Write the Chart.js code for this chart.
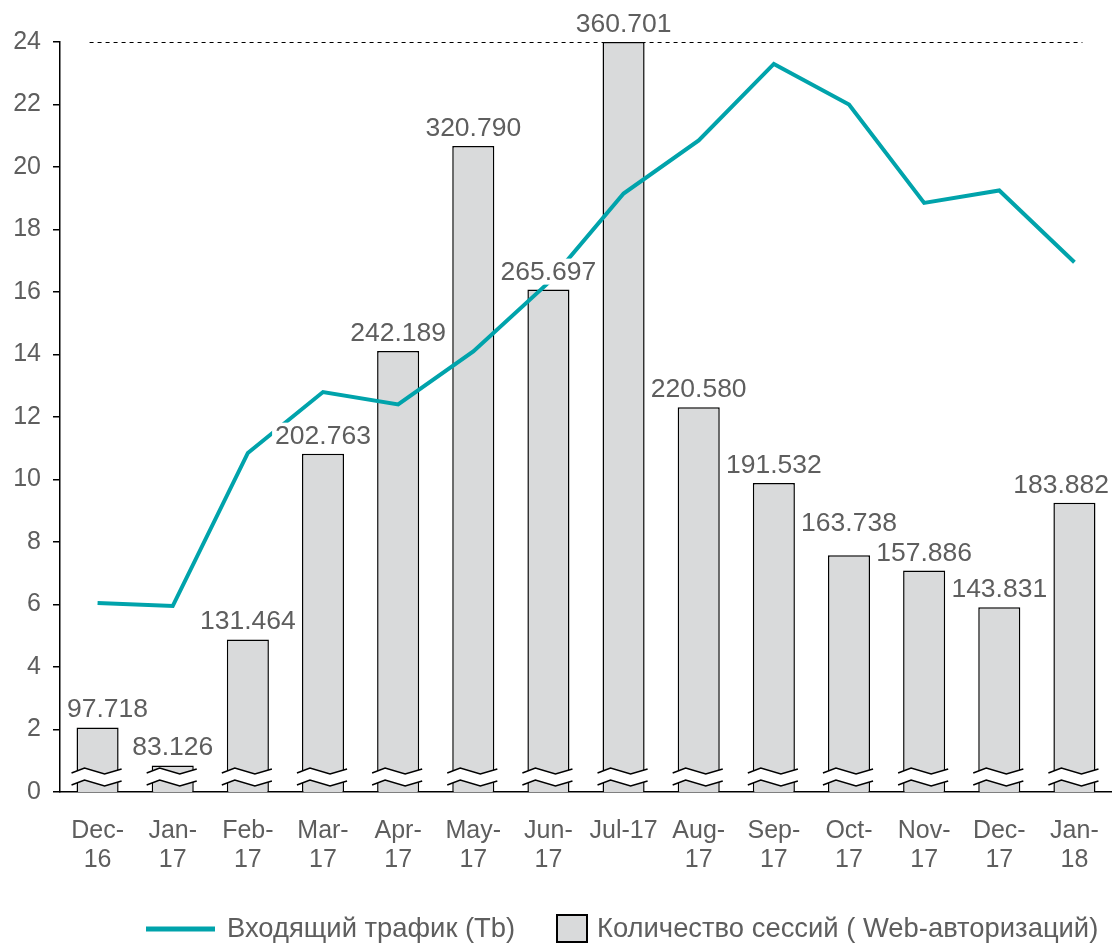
<!DOCTYPE html>
<html>
<head>
<meta charset="utf-8">
<script src="https://cdn.jsdelivr.net/npm/chart.js@4/dist/chart.umd.min.js"></script>
<style>
  html, body { margin: 0; padding: 0; background: #fff; }
  #wrap { width: 1112px; height: 944px; position: relative; }
</style>
</head>
<body>
<div id="wrap"><canvas id="c"></canvas></div>
<script>
const months = [['Dec-','16'],['Jan-','17'],['Feb-','17'],['Mar-','17'],['Apr-','17'],['May-','17'],['Jun-','17'],
  'Jul-17',['Aug-','17'],['Sep-','17'],['Oct-','17'],['Nov-','17'],['Dec-','17'],['Jan-','18']];
const traffic = [6.05, 5.95, 10.85, 12.8, 12.4, 14.1, 16.3, 19.15, 20.85, 23.3, 22.0, 18.85, 19.25, 16.95];
const sessions = [97.718, 83.126, 131.464, 202.763, 242.189, 320.790, 265.697, 360.701, 220.580, 191.532, 163.738, 157.886, 143.831, 183.882];
const yTicks = [0, 2, 4, 6, 8, 10, 12, 14, 16, 18, 20, 22, 24];
const sessionsAxisMin = 72.95;
const trafficLabel = 'Входящий трафик (Tb)';
const sessionsLabel = 'Количество сессий ( Web-авторизаций)';

const FONT = "'Liberation Sans', Arial, sans-serif";
const TEXT = '#5e5e5e';
const TEAL = '#00a3ab';
const BAR = '#d9dadb';

// dashed line at the top value
const topLine = {
  id: 'topLine',
  beforeDatasetsDraw(chart) {
    const { ctx, scales } = chart;
    const y = scales.y.getPixelForValue(24);
    const x0 = scales.x.getPixelForValue(0) - 8;
    const x1 = scales.x.getPixelForValue(months.length - 1) + 8;
    ctx.save();
    ctx.strokeStyle = '#000';
    ctx.lineWidth = 1;
    ctx.setLineDash([4, 4]);
    ctx.beginPath();
    ctx.moveTo(x0, y + 0.5);
    ctx.lineTo(x1, y + 0.5);
    ctx.stroke();
    ctx.restore();
  }
};

// axis-break marks and value labels on the bars
const barExtras = {
  id: 'barExtras',
  afterDatasetsDraw(chart) {
    const { ctx, chartArea } = chart;
    const meta = chart.getDatasetMeta(1);
    const base = chartArea.bottom;
    ctx.save();
    meta.data.forEach((bar) => {
      const l = bar.x - bar.width / 2, r = bar.x + bar.width / 2;
      const up = [[l - 5, base - 19], [l + 8, base - 24], [r - 14, base - 18], [r + 3, base - 23]];
      const lo = up.map(p => [p[0], p[1] + 12]);
      ctx.beginPath();
      up.forEach((p, i) => i ? ctx.lineTo(p[0], p[1]) : ctx.moveTo(p[0], p[1]));
      for (let i = lo.length - 1; i >= 0; i--) ctx.lineTo(lo[i][0], lo[i][1]);
      ctx.closePath();
      ctx.fillStyle = '#fff';
      ctx.fill();
      ctx.strokeStyle = '#000';
      ctx.lineWidth = 1.5;
      [up, lo].forEach(line => {
        ctx.beginPath();
        line.forEach((p, i) => i ? ctx.lineTo(p[0], p[1]) : ctx.moveTo(p[0], p[1]));
        ctx.stroke();
      });
    });

    ctx.font = '26.5px ' + FONT;
    ctx.textAlign = 'center';
    ctx.textBaseline = 'alphabetic';
    const labels = meta.data.map((bar, i) => {
      const txt = sessions[i].toFixed(3);
      const w = ctx.measureText(txt).width;
      let x = bar.x;
      if (x + w / 2 > chart.width - 3) x = chart.width - 3 - w / 2;
      if (x - w / 2 < chartArea.left + 7) x = chartArea.left + 7 + w / 2;
      return { txt, w, x, yb: bar.y - 10 };
    });
    // lift a label that would collide with its right neighbour
    for (let i = labels.length - 2; i >= 0; i--) {
      const a = labels[i], b = labels[i + 1];
      const hOver = Math.abs(a.x - b.x) < (a.w + b.w) / 2;
      if (hOver && a.yb <= b.yb && b.yb - a.yb < 24) a.yb = b.yb - 30;
    }
    labels.forEach(lb => {
      ctx.fillStyle = '#fff';
      ctx.fillRect(lb.x - lb.w / 2 - 3, lb.yb - 21, lb.w + 6, 26);
      ctx.fillStyle = TEXT;
      ctx.fillText(lb.txt, lb.x, lb.yb);
    });
    ctx.restore();
  }
};

const legendDraw = {
  id: 'legendDraw',
  afterDraw(chart) {
    const { ctx } = chart;
    const y = 929;
    ctx.save();
    ctx.strokeStyle = TEAL;
    ctx.lineWidth = 5;
    ctx.beginPath();
    ctx.moveTo(146, y);
    ctx.lineTo(215, y);
    ctx.stroke();
    ctx.font = '27.4px ' + FONT;
    ctx.fillStyle = TEXT;
    ctx.textBaseline = 'middle';
    ctx.fillText(trafficLabel, 227, y);
    ctx.fillStyle = BAR;
    ctx.fillRect(557, 915, 30, 27);
    ctx.strokeStyle = '#000';
    ctx.lineWidth = 2;
    ctx.strokeRect(557, 915, 30, 27);
    ctx.fillStyle = TEXT;
    ctx.fillText(sessionsLabel, 597, y);
    ctx.restore();
  }
};

new Chart(document.getElementById('c'), {
  type: 'bar',
  data: {
    labels: months,
    datasets: [
      {
        type: 'line', label: trafficLabel, data: traffic, yAxisID: 'y', order: 0,
        borderColor: TEAL, borderWidth: 4, pointRadius: 0, tension: 0,
        borderJoinStyle: 'miter', fill: false
      },
      {
        type: 'bar', label: sessionsLabel, data: sessions, yAxisID: 'y2', order: 1,
        backgroundColor: BAR, borderColor: '#000', borderWidth: 1.5,
        barPercentage: 0.56, categoryPercentage: 1
      }
    ]
  },
  options: {
    responsive: true,
    maintainAspectRatio: false,
    animation: false,
    devicePixelRatio: 1,
    layout: { padding: { top: 42, right: -6, bottom: 72, left: 0 } },
    plugins: { legend: { display: false }, tooltip: { enabled: false } },
    scales: {
      x: {
        offset: true,
        grid: { display: false },
        border: { display: true, color: '#000', width: 1.5 },
        ticks: {
          color: TEXT, font: { family: FONT, size: 25, lineHeight: 1.18 },
          maxRotation: 0, autoSkip: false, padding: 16
        },
        afterFit(s) { s.height = 80; s.paddingRight = 0; s.paddingLeft = 0; }
      },
      y: {
        min: 0, max: 24,
        afterBuildTicks(s) { s.ticks = yTicks.map(v => ({ value: v })); },
        grid: { drawOnChartArea: false, drawTicks: true, tickLength: 7, color: '#000', lineWidth: 1.5 },
        border: { display: true, color: '#000', width: 1.5 },
        ticks: { color: TEXT, font: { family: FONT, size: 25 }, padding: 12 },
        afterFit(s) { s.width = 60; }
      },
      y2: {
        display: false,
        min: sessionsAxisMin, max: 360.701
      }
    }
  },
  plugins: [topLine, barExtras, legendDraw]
});
</script>
</body>
</html>
